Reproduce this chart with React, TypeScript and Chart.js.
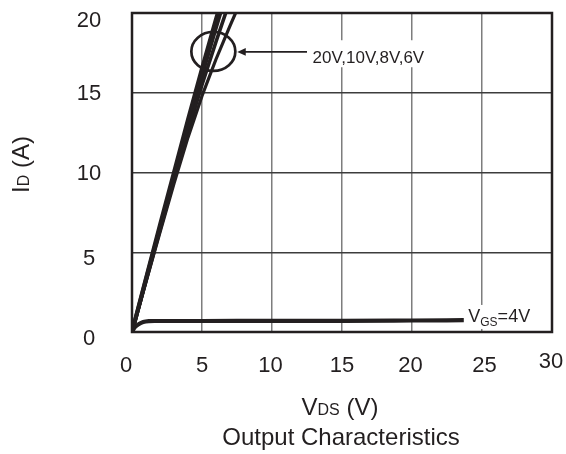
import React, { useEffect, useRef } from "react";
import { Chart, registerables } from "chart.js";

Chart.register(...registerables);

const FONT = "'Liberation Sans', Arial, Helvetica, sans-serif";
const INK = "#231f20";

// Axis ticks
const xTicks = [0, 5, 10, 15, 20, 25, 30];
const xTickLabels = ["0", "5", "10", "15", "20", "25", "30"];
const yTicks = [0, 5, 10, 15, 20];
const yTickLabels = ["0", "5", "10", "15", "20"];

// Series (VDS in V, ID in A)
const vgs20V_x = [0, 1, 2, 3, 4, 5, 6, 7];
const vgs20V_y = [0, 3.35, 6.7, 10.0, 13.3, 16.5, 19.6, 22.6];
const vgs10V_x = [0, 1, 2, 3, 4, 5, 6, 7];
const vgs10V_y = [0, 3.3, 6.55, 9.8, 13.0, 16.1, 19.1, 22.0];
const vgs8V_x = [0, 1, 2, 3, 4, 5, 6, 7];
const vgs8V_y = [0, 3.2, 6.4, 9.55, 12.6, 15.5, 18.2, 20.8];
const vgs6V_x = [0, 1, 2, 3, 4, 5, 6, 7, 8];
const vgs6V_y = [0, 3.15, 6.25, 9.3, 12.2, 14.8, 17.1, 19.2, 21.2];
const vgs4V_x = [0, 0.2, 0.5, 0.8, 1.2, 1.6, 5, 10, 15, 20, 23.7];
const vgs4V_y = [0, 0.3, 0.5, 0.62, 0.68, 0.69, 0.69, 0.7, 0.7, 0.72, 0.74];

// Annotation anchors (data units)
const ELLIPSE_AT = { x: 5.81, y: 17.59 };
const ARROW_TIP = { x: 7.52, y: 17.56 };
const ARROW_TAIL_X = 12.5;
const GROUP_LABEL = "20V,10V,8V,6V";
const GROUP_LABEL_AT = { x: 12.9, y: 16.85 };
const VGS_LABEL_AT = { x: 24.02, y: 0.63 };

// label nudges (px)
const X_DX = [-6, 0, -1.5, 0, -1.5, 2.5, -1];
const X_DY = [0, 0, 0, 0, 0, 0, -4.5];
const Y_DY = [13, 12.7, 7.3, 7, 14];

type Part = { t: string; size: number; dy: number };

function richWidth(ctx: CanvasRenderingContext2D, parts: Part[]) {
  let w = 0;
  for (const p of parts) {
    ctx.font = `${p.size}px ${FONT}`;
    w += ctx.measureText(p.t).width;
  }
  return w;
}

function drawRich(ctx: CanvasRenderingContext2D, parts: Part[], x: number, y: number) {
  let cx = x;
  for (const p of parts) {
    ctx.font = `${p.size}px ${FONT}`;
    ctx.fillText(p.t, cx, y + p.dy);
    cx += ctx.measureText(p.t).width;
  }
}

const decorPlugin = {
  id: "decor",
  afterDraw(chart: any) {
    const { ctx, chartArea: a } = chart;
    const xs = chart.scales.x;
    const ys = chart.scales.y;
    ctx.save();

    // frame
    ctx.strokeStyle = INK;
    ctx.lineWidth = 2.5;
    ctx.strokeRect(a.left, a.top, a.right - a.left, a.bottom - a.top);

    // tick labels
    ctx.fillStyle = INK;
    ctx.textBaseline = "alphabetic";
    ctx.textAlign = "center";
    ctx.font = `22px ${FONT}`;
    xTicks.forEach((v, i) => {
      ctx.fillText(xTickLabels[i], xs.getPixelForValue(v) + X_DX[i], a.bottom + 40 + X_DY[i]);
    });
    yTicks.forEach((v, i) => {
      ctx.fillText(yTickLabels[i], a.left - 43, ys.getPixelForValue(v) + Y_DY[i]);
    });

    ctx.textAlign = "left";
    // x title
    const xt: Part[] = [
      { t: "V", size: 24, dy: 0 },
      { t: "DS", size: 16, dy: 0 },
      { t: " (V)", size: 24, dy: 0 },
    ];
    const xw = richWidth(ctx, xt);
    drawRich(ctx, xt, 340 - xw / 2, a.bottom + 83);

    // caption
    ctx.textAlign = "center";
    ctx.font = `24px ${FONT}`;
    ctx.fillText("Output Characteristics", 341, a.bottom + 113);
    ctx.textAlign = "left";

    // y title
    const yt: Part[] = [
      { t: "I", size: 24, dy: 0 },
      { t: "D", size: 16, dy: 0 },
      { t: " (A)", size: 24, dy: 0 },
    ];
    const yw = richWidth(ctx, yt);
    ctx.save();
    ctx.translate(29, (a.top + a.bottom) / 2 - 8);
    ctx.rotate(-Math.PI / 2);
    drawRich(ctx, yt, -yw / 2, 0);
    ctx.restore();

    // ellipse
    ctx.strokeStyle = INK;
    ctx.lineWidth = 2.7;
    ctx.beginPath();
    ctx.ellipse(xs.getPixelForValue(ELLIPSE_AT.x), ys.getPixelForValue(ELLIPSE_AT.y), 22, 19.5, 0, 0, Math.PI * 2);
    ctx.stroke();

    // group label box + text
    ctx.font = `17px ${FONT}`;
    const gx = xs.getPixelForValue(GROUP_LABEL_AT.x);
    const gy = ys.getPixelForValue(GROUP_LABEL_AT.y);
    const gw = ctx.measureText(GROUP_LABEL).width;
    ctx.fillStyle = "#ffffff";
    ctx.fillRect(gx - 3, gy - 23, gw + 6, 27);
    ctx.fillStyle = INK;
    ctx.fillText(GROUP_LABEL, gx, gy);

    // arrow
    const tipX = xs.getPixelForValue(ARROW_TIP.x);
    const tipY = ys.getPixelForValue(ARROW_TIP.y);
    const tailX = xs.getPixelForValue(ARROW_TAIL_X);
    ctx.lineWidth = 1.8;
    ctx.beginPath();
    ctx.moveTo(tailX, tipY);
    ctx.lineTo(tipX + 6, tipY);
    ctx.stroke();
    ctx.beginPath();
    ctx.moveTo(tipX, tipY);
    ctx.lineTo(tipX + 8.5, tipY - 3.8);
    ctx.lineTo(tipX + 8.5, tipY + 3.8);
    ctx.closePath();
    ctx.fill();

    // VGS label
    const vParts: Part[] = [
      { t: "V", size: 18, dy: 0 },
      { t: "GS", size: 12, dy: 4.3 },
      { t: "=4V", size: 18, dy: 0 },
    ];
    const vx = xs.getPixelForValue(VGS_LABEL_AT.x);
    const vy = ys.getPixelForValue(VGS_LABEL_AT.y);
    const vw = richWidth(ctx, vParts);
    ctx.fillStyle = "#ffffff";
    ctx.fillRect(vx - 3, vy - 17, vw + 6, 24);
    ctx.fillStyle = INK;
    drawRich(ctx, vParts, vx, vy);

    ctx.restore();
  },
};

export default function App() {
  const ref = useRef<HTMLCanvasElement>(null);

  useEffect(() => {
    const canvas = ref.current;
    if (!canvas) return;
    const pts = (xs: number[], ys: number[]) => xs.map((x, i) => ({ x, y: ys[i] }));
    const line = (label: string, xs: number[], ys: number[], w: number, smooth = false) => ({
      label,
      data: pts(xs, ys),
      showLine: true,
      borderColor: INK,
      backgroundColor: INK,
      borderWidth: w,
      pointRadius: 0,
      pointHoverRadius: 0,
      tension: smooth ? 0.4 : 0,
      cubicInterpolationMode: smooth ? "monotone" : "default",
      borderJoinStyle: "round",
      borderCapStyle: "butt",
      clip: 0,
    });

    const chart = new Chart(canvas, {
      type: "scatter",
      data: {
        datasets: [
          line("VGS=6V", vgs6V_x, vgs6V_y, 3.2) as any,
          line("VGS=8V", vgs8V_x, vgs8V_y, 3.6) as any,
          line("VGS=10V", vgs10V_x, vgs10V_y, 4) as any,
          line("VGS=20V", vgs20V_x, vgs20V_y, 4.2) as any,
          line("VGS=4V", vgs4V_x, vgs4V_y, 4.2, true) as any,
        ],
      },
      options: {
        animation: false,
        responsive: false,
        maintainAspectRatio: false,
        events: [],
        layout: { padding: { top: 13, right: 14, left: 0, bottom: 0 } },
        plugins: { legend: { display: false }, tooltip: { enabled: false } },
        scales: {
          x: {
            type: "linear",
            min: 0,
            max: 30,
            ticks: { stepSize: 5, display: false },
            grid: { color: "#7d7d7d", lineWidth: 1.5, drawTicks: false },
            border: { display: false },
            afterFit: (s: any) => {
              s.height = 122;
            },
          },
          y: {
            type: "linear",
            min: 0,
            max: 20,
            ticks: { stepSize: 5, display: false },
            grid: { color: "#3c3c3c", lineWidth: 1.5, drawTicks: false },
            border: { display: false },
            afterFit: (s: any) => {
              s.width = 132;
            },
          },
        },
      },
      plugins: [decorPlugin],
    });
    return () => chart.destroy();
  }, []);

  return (
    <div style={{ position: "absolute", left: 0, top: 0, width: 566, height: 454, background: "#ffffff" }}>
      <canvas ref={ref} width={566} height={454} style={{ display: "block" }} />
    </div>
  );
}
